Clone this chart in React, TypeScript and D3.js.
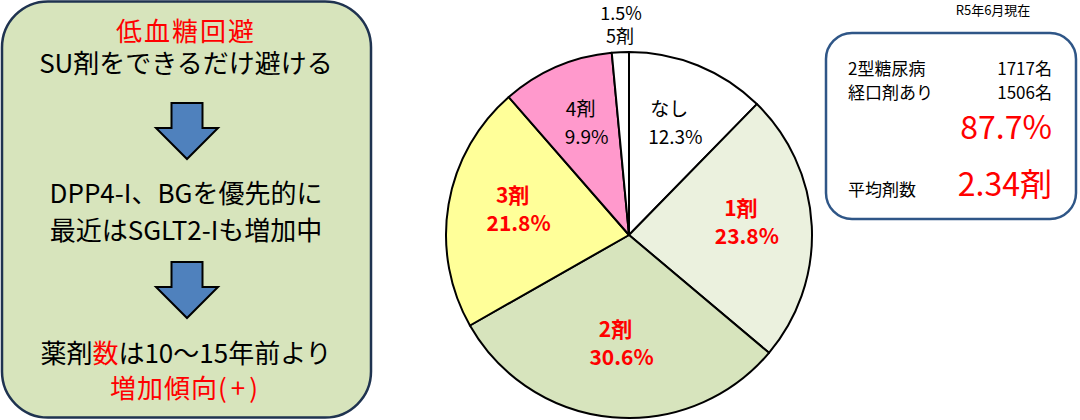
import React from "react";
import * as d3 from "d3";

// ---- data ----
const categories = ["なし", "1剤", "2剤", "3剤", "4剤", "5剤"];
const shares = [12.3, 23.8, 30.6, 21.8, 9.9, 1.5];
const leftLines = [
  ["低血糖回避"],
  ["SU剤をできるだけ避ける"],
  ["DPP4-I、BGを優先的に"],
  ["最近はSGLT2-Iも増加中"],
];
const patients = ["2型糖尿病", "経口剤あり"];
const patientCounts = ["1717名", "1506名"];
const oralRate = "87.7%";
const avgLabel = "平均剤数";
const avgValue = "2.34剤";
const asOf = "R5年6月現在";

// ---- style ----
const W = 1080;
const H = 420;
const FONT = "'Noto Sans CJK JP', 'Noto Sans', sans-serif";
const sliceColors = ["#FFFFFF", "#EBF1DE", "#D7E4BD", "#FFFF99", "#FF99CC", "#FFFFFF"];
const redCats = new Set(["1剤", "2剤", "3剤"]);
const RED = "#FF0000";

function Arrow({ cx, top }: { cx: number; top: number }) {
  const sw = 15.5, hw = 31, sh = 25, hh = 31;
  const d = [
    [cx - sw, top], [cx + sw, top], [cx + sw, top + sh], [cx + hw, top + sh],
    [cx, top + sh + hh], [cx - hw, top + sh], [cx - sw, top + sh],
  ];
  return <path d={d3.line()(d as [number, number][])! + "Z"} fill="#4F81BD" stroke="#000" strokeWidth={2} strokeLinejoin="miter" />;
}

export default function App() {
  const cx = 629, cy = 235, R = 183;
  const pie = d3.pie<number>().sort(null).value((d) => d).startAngle(0).endAngle(2 * Math.PI);
  const arcs = pie(shares);
  const arc = d3.arc<d3.PieArcDatum<number>>().innerRadius(0).outerRadius(R);
  const labelArc = d3.arc<d3.PieArcDatum<number>>().innerRadius(115).outerRadius(115);
  const outerArc = d3.arc<d3.PieArcDatum<number>>().innerRadius(192).outerRadius(192);

  const lcx = 186;
  return (
    <svg width={W} height={H} style={{ position: "absolute", left: 0, top: 0, display: "block" }} fontFamily={FONT}>
      <rect width={W} height={H} fill="#fff" />
      {/* left panel */}
      <rect x={2} y={1.5} width={369} height={416} rx={46} ry={46} fill="#D7E4BC" stroke="#1F3350" strokeWidth={2.5} />
      <text x={lcx} y={41} textAnchor="middle" fontSize={26} fill={RED} letterSpacing={2}>{leftLines[0][0]}</text>
      <text x={lcx} y={73} textAnchor="middle" fontSize={26} fill="#000">{leftLines[1][0]}</text>
      <Arrow cx={187} top={103} />
      <text x={lcx} y={203} textAnchor="middle" fontSize={26} fill="#000">{leftLines[2][0]}</text>
      <text x={lcx} y={240} textAnchor="middle" fontSize={26} fill="#000">{leftLines[3][0]}</text>
      <Arrow cx={187} top={262} />
      <text x={lcx} y={363} textAnchor="middle" fontSize={26} fill="#000">
        薬剤<tspan fill={RED}>数</tspan>は10～15年前より
      </text>
      <text x={lcx} y={398} textAnchor="middle" fontSize={26} fill={RED} letterSpacing={1}>
        増加傾向<tspan letterSpacing={4}>(+)</tspan>
      </text>

      {/* pie */}
      <g transform={`translate(${cx},${cy})`}>
        {arcs.map((a, i) => (
          <path key={i} d={arc(a)!} fill={sliceColors[i]} stroke="#000" strokeWidth={2} strokeLinejoin="round" />
        ))}
        {arcs.map((a, i) => {
          const cat = categories[i];
          const txt = `${shares[i].toFixed(1)}%`;
          if (i === arcs.length - 1) {
            const [x, y] = outerArc.centroid(a);
            return (
              <g key={"l" + i} fontSize={18} fill="#000" textAnchor="middle">
                <text x={x + 1} y={y - 23}>{txt}</text>
                <text x={x} y={y}>{cat}</text>
              </g>
            );
          }
          const [x, y] = labelArc.centroid(a);
          const red = redCats.has(cat);
          return (
            <g key={"l" + i} textAnchor="middle" fill={red ? RED : "#000"} fontSize={red ? 21 : 19} fontWeight={red ? 700 : 400}>
              <text x={x - 3} y={y - 13}>{cat}</text>
              <text x={x + 3} y={y + 15}>{txt}</text>
            </g>
          );
        })}
      </g>

      {/* right panel */}
      <text x={993} y={15} textAnchor="middle" fontSize={13} fill="#000">{asOf}</text>
      <rect x={826} y={33} width={250} height={186} rx={26} ry={26} fill="#fff" stroke="#2F5687" strokeWidth={2.5} />
      {patients.map((p, i) => (
        <g key={p} fontSize={17} fill="#000">
          <text x={848} y={75 + i * 24}>{p}</text>
          <text x={1052} y={75 + i * 24} textAnchor="end">{patientCounts[i]}</text>
        </g>
      ))}
      <text x={1052} y={139} textAnchor="end" fontSize={32} fill={RED}>{oralRate}</text>
      <text x={848} y={196} fontSize={17} fill="#000">{avgLabel}</text>
      <text x={1052} y={196} textAnchor="end" fontSize={32} fill={RED}>{avgValue}</text>
    </svg>
  );
}
